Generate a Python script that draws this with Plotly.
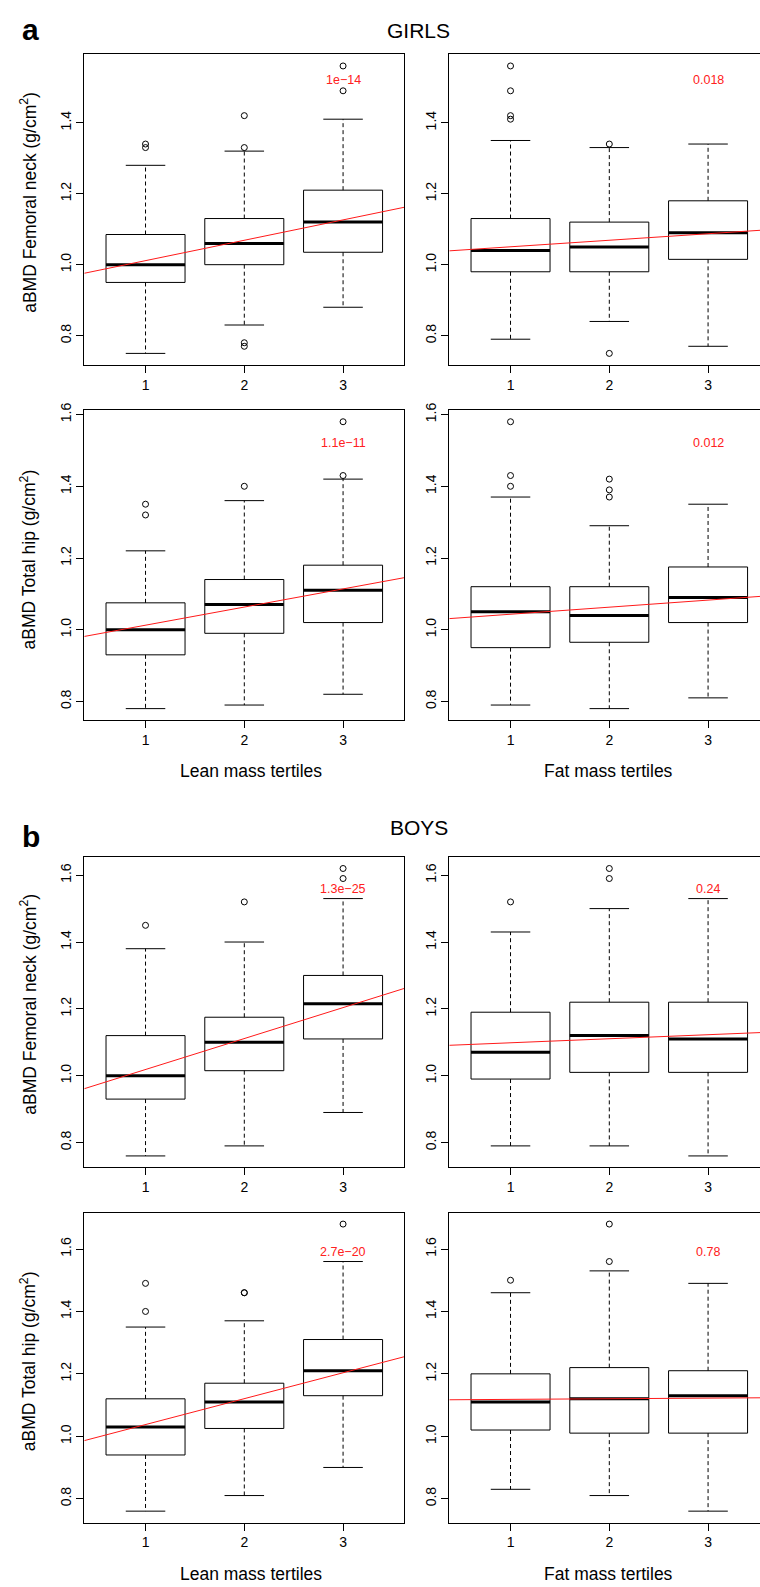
import plotly.graph_objects as go

# ---------------- data ----------------
tertiles = [1, 2, 3]
tertile_labels = ["1", "2", "3"]

# Each panel: lower whisker, Q1, median, Q3, upper whisker, outliers per tertile
girls_lean_fn_lo = [0.75, 0.83, 0.88]
girls_lean_fn_q1 = [0.95, 1.00, 1.035]
girls_lean_fn_med = [1.00, 1.06, 1.12]
girls_lean_fn_q3 = [1.085, 1.13, 1.21]
girls_lean_fn_hi = [1.28, 1.32, 1.41]
girls_lean_fn_out = [[1.33, 1.34], [0.77, 0.78, 1.33, 1.42], [1.49, 1.56]]

girls_fat_fn_lo = [0.79, 0.84, 0.77]
girls_fat_fn_q1 = [0.98, 0.98, 1.015]
girls_fat_fn_med = [1.04, 1.05, 1.09]
girls_fat_fn_q3 = [1.13, 1.12, 1.18]
girls_fat_fn_hi = [1.35, 1.33, 1.34]
girls_fat_fn_out = [[1.41, 1.42, 1.49, 1.56], [0.75, 1.34], []]

girls_lean_th_lo = [0.78, 0.79, 0.82]
girls_lean_th_q1 = [0.93, 0.99, 1.02]
girls_lean_th_med = [1.00, 1.07, 1.11]
girls_lean_th_q3 = [1.075, 1.14, 1.18]
girls_lean_th_hi = [1.22, 1.36, 1.42]
girls_lean_th_out = [[1.32, 1.35], [1.40], [1.43, 1.58]]

girls_fat_th_lo = [0.79, 0.78, 0.81]
girls_fat_th_q1 = [0.95, 0.965, 1.02]
girls_fat_th_med = [1.05, 1.04, 1.09]
girls_fat_th_q3 = [1.12, 1.12, 1.175]
girls_fat_th_hi = [1.37, 1.29, 1.35]
girls_fat_th_out = [[1.40, 1.43, 1.58], [1.37, 1.39, 1.42], []]

boys_lean_fn_lo = [0.76, 0.79, 0.89]
boys_lean_fn_q1 = [0.93, 1.015, 1.11]
boys_lean_fn_med = [1.00, 1.10, 1.215]
boys_lean_fn_q3 = [1.12, 1.175, 1.30]
boys_lean_fn_hi = [1.38, 1.40, 1.53]
boys_lean_fn_out = [[1.45], [1.52], [1.59, 1.62]]

boys_fat_fn_lo = [0.79, 0.79, 0.76]
boys_fat_fn_q1 = [0.99, 1.01, 1.01]
boys_fat_fn_med = [1.07, 1.12, 1.11]
boys_fat_fn_q3 = [1.19, 1.22, 1.22]
boys_fat_fn_hi = [1.43, 1.50, 1.53]
boys_fat_fn_out = [[1.52], [1.59, 1.62], []]

boys_lean_th_lo = [0.76, 0.81, 0.90]
boys_lean_th_q1 = [0.94, 1.025, 1.13]
boys_lean_th_med = [1.03, 1.11, 1.21]
boys_lean_th_q3 = [1.12, 1.17, 1.31]
boys_lean_th_hi = [1.35, 1.37, 1.56]
boys_lean_th_out = [[1.40, 1.49], [1.46, 1.46], [1.68]]

boys_fat_th_lo = [0.83, 0.81, 0.76]
boys_fat_th_q1 = [1.02, 1.01, 1.01]
boys_fat_th_med = [1.11, 1.12, 1.13]
boys_fat_th_q3 = [1.20, 1.22, 1.21]
boys_fat_th_hi = [1.46, 1.53, 1.49]
boys_fat_th_out = [[1.50], [1.56, 1.68], []]

# regression lines (intercept, slope on tertile scale)
reg_intercept = [0.954, 1.032, 0.962, 1.0235, 0.926, 1.0864, 0.9545, 1.1162]
reg_slope = [0.0574, 0.0184, 0.0506, 0.0197, 0.0926, 0.0121, 0.0830, 0.0020]

p_labels = ["1e\u221214", "0.018", "1.1e\u221211", "0.012",
            "1.3e\u221225", "0.24", "2.7e\u221220", "0.78"]
p_label_y = [1.521, 1.521, 1.52, 1.52, 1.56, 1.56, 1.59, 1.59]

y_titles = ["aBMD Femoral neck (g/cm<sup>2</sup>)", "aBMD Total hip (g/cm<sup>2</sup>)",
            "aBMD Femoral neck (g/cm<sup>2</sup>)", "aBMD Total hip (g/cm<sup>2</sup>)"]
x_titles = ["Lean mass tertiles", "Fat mass tertiles"]

panels = [
    (girls_lean_fn_lo, girls_lean_fn_q1, girls_lean_fn_med, girls_lean_fn_q3, girls_lean_fn_hi, girls_lean_fn_out),
    (girls_fat_fn_lo, girls_fat_fn_q1, girls_fat_fn_med, girls_fat_fn_q3, girls_fat_fn_hi, girls_fat_fn_out),
    (girls_lean_th_lo, girls_lean_th_q1, girls_lean_th_med, girls_lean_th_q3, girls_lean_th_hi, girls_lean_th_out),
    (girls_fat_th_lo, girls_fat_th_q1, girls_fat_th_med, girls_fat_th_q3, girls_fat_th_hi, girls_fat_th_out),
    (boys_lean_fn_lo, boys_lean_fn_q1, boys_lean_fn_med, boys_lean_fn_q3, boys_lean_fn_hi, boys_lean_fn_out),
    (boys_fat_fn_lo, boys_fat_fn_q1, boys_fat_fn_med, boys_fat_fn_q3, boys_fat_fn_hi, boys_fat_fn_out),
    (boys_lean_th_lo, boys_lean_th_q1, boys_lean_th_med, boys_lean_th_q3, boys_lean_th_hi, boys_lean_th_out),
    (boys_fat_th_lo, boys_fat_th_q1, boys_fat_th_med, boys_fat_th_q3, boys_fat_th_hi, boys_fat_th_out),
]

# ---------------- layout geometry (pixels) ----------------
W, H = 760, 1587
row_tops = [46.7, 404.3, 853.3, 1210.7]
row_bottoms = [358.7, 715.7, 1165.3, 1522.3]
col_lefts = [84.3, 449.3]
panel_w = 320.0
FONT = "Liberation Sans, Arial, Helvetica, sans-serif"

x_lo = 0.5 - 0.04 * 3
x_hi = 3.5 + 0.04 * 3
bw = 0.4     # half box width
cw = 0.2     # half cap width

fig = go.Figure()
layout = dict(width=W, height=H, margin=dict(l=0, r=0, t=0, b=0),
              paper_bgcolor="white", plot_bgcolor="white", showlegend=False,
              font=dict(family=FONT, color="black"))
annotations = []

for i, (lo, q1, med, q3, hi, outs) in enumerate(panels):
    k = i + 1
    row, col = i // 2, i % 2
    xa = "x" if k == 1 else f"x{k}"
    ya = "y" if k == 1 else f"y{k}"

    bx, by, mx, my, wx, wy, cx, cy, ox, oy = [], [], [], [], [], [], [], [], [], []
    for g, a, b, m, c, d, o in zip(tertiles, lo, q1, med, q3, hi, outs):
        bx += [g - bw, g + bw, g + bw, g - bw, g - bw, None]
        by += [b, b, c, c, b, None]
        mx += [g - bw, g + bw, None]
        my += [m, m, None]
        wx += [g, g, None, g, g, None]
        wy += [c, d, None, b, a, None]
        cx += [g - cw, g + cw, None, g - cw, g + cw, None]
        cy += [d, d, None, a, a, None]
        ox += [g] * len(o)
        oy += list(o)
    fig.add_trace(go.Scatter(x=wx, y=wy, mode="lines", xaxis=xa, yaxis=ya,
                             line=dict(color="black", width=1, dash="4px,3px"), hoverinfo="skip"))
    fig.add_trace(go.Scatter(x=cx, y=cy, mode="lines", xaxis=xa, yaxis=ya,
                             line=dict(color="black", width=1), hoverinfo="skip"))
    fig.add_trace(go.Scatter(x=bx, y=by, mode="lines", xaxis=xa, yaxis=ya,
                             line=dict(color="black", width=1), hoverinfo="skip"))
    fig.add_trace(go.Scatter(x=mx, y=my, mode="lines", xaxis=xa, yaxis=ya,
                             line=dict(color="black", width=3), hoverinfo="skip"))
    fig.add_trace(go.Scatter(x=ox, y=oy, mode="markers", xaxis=xa, yaxis=ya,
                             marker=dict(symbol="circle-open", size=6, color="black",
                                         line=dict(width=1, color="black")), hoverinfo="skip"))
    fig.add_trace(go.Scatter(x=[x_lo, x_hi],
                             y=[reg_intercept[i] + reg_slope[i] * x_lo, reg_intercept[i] + reg_slope[i] * x_hi],
                             mode="lines", xaxis=xa, yaxis=ya,
                             line=dict(color="#ff1a1a", width=1), hoverinfo="skip"))

    all_vals = lo + hi + [v for o in outs for v in o]
    vmin, vmax = min(all_vals), max(all_vals)
    pad = 0.04 * (vmax - vmin)
    left = col_lefts[col]
    right = min(left + panel_w, W)
    xr_hi = x_lo + (x_hi - x_lo) * (right - left) / panel_w

    layout["xaxis" if k == 1 else f"xaxis{k}"] = dict(
        domain=[left / W, right / W], range=[x_lo, xr_hi], anchor=ya,
        tickmode="array", tickvals=tertiles, ticktext=tertile_labels,
        ticks="outside", ticklen=7, tickwidth=1, tickcolor="black",
        showline=True, mirror=True, linecolor="black", linewidth=1,
        showgrid=False, zeroline=False, tickfont=dict(size=14, family=FONT, color="black"))
    layout["yaxis" if k == 1 else f"yaxis{k}"] = dict(
        domain=[1 - row_bottoms[row] / H, 1 - row_tops[row] / H],
        range=[vmin - pad, vmax + pad], anchor=xa,
        tick0=0, dtick=0.2, tickformat=".1f", tickangle=-90,
        ticks="outside", ticklen=7, tickwidth=1, tickcolor="black",
        showline=True, mirror=(col == 0), linecolor="black", linewidth=1,
        showgrid=False, zeroline=False, tickfont=dict(size=14, family=FONT, color="black"))

    annotations.append(dict(x=3, y=p_label_y[i], xref=xa, yref=ya, text=p_labels[i],
                            showarrow=False, font=dict(size=12.5, color="#ff2020", family=FONT),
                            xanchor="center", yanchor="middle"))

y_title_centers = [195.8, 554.2, 1001.7, 1360.0]
for t, yc in zip(y_titles, y_title_centers):
    annotations.append(dict(x=28 / W, y=1 - yc / H, xref="paper", yref="paper", text=t,
                            textangle=-90, showarrow=False, font=dict(size=17.5, family=FONT),
                            xanchor="center", yanchor="middle"))
for ry in [767.0, 1574.0]:
    for t, xc in zip(x_titles, [251.3, 608.5]):
        annotations.append(dict(x=xc / W, y=1 - ry / H, xref="paper", yref="paper", text=t,
                                showarrow=False, font=dict(size=17.5, family=FONT),
                                xanchor="center", yanchor="middle"))
for t, px, py, sz in [("<b>a</b>", 30, 22, 30), ("GIRLS", 418.7, 22.7, 21),
                      ("<b>b</b>", 31, 833, 30), ("BOYS", 418.8, 823.3, 21)]:
    annotations.append(dict(x=px / W, y=1 - py / H, xref="paper", yref="paper", text=t,
                            showarrow=False, font=dict(size=sz, family=FONT),
                            xanchor="center", yanchor="middle"))

layout["annotations"] = annotations
fig.update_layout(**layout)
fig.write_html("out.html", config={"displayModeBar": False, "staticPlot": True},
               post_script="document.body.style.margin='0';document.body.style.padding='0';"
                           "document.documentElement.style.overflow='hidden';window.dispatchEvent(new Event('resize'));")
